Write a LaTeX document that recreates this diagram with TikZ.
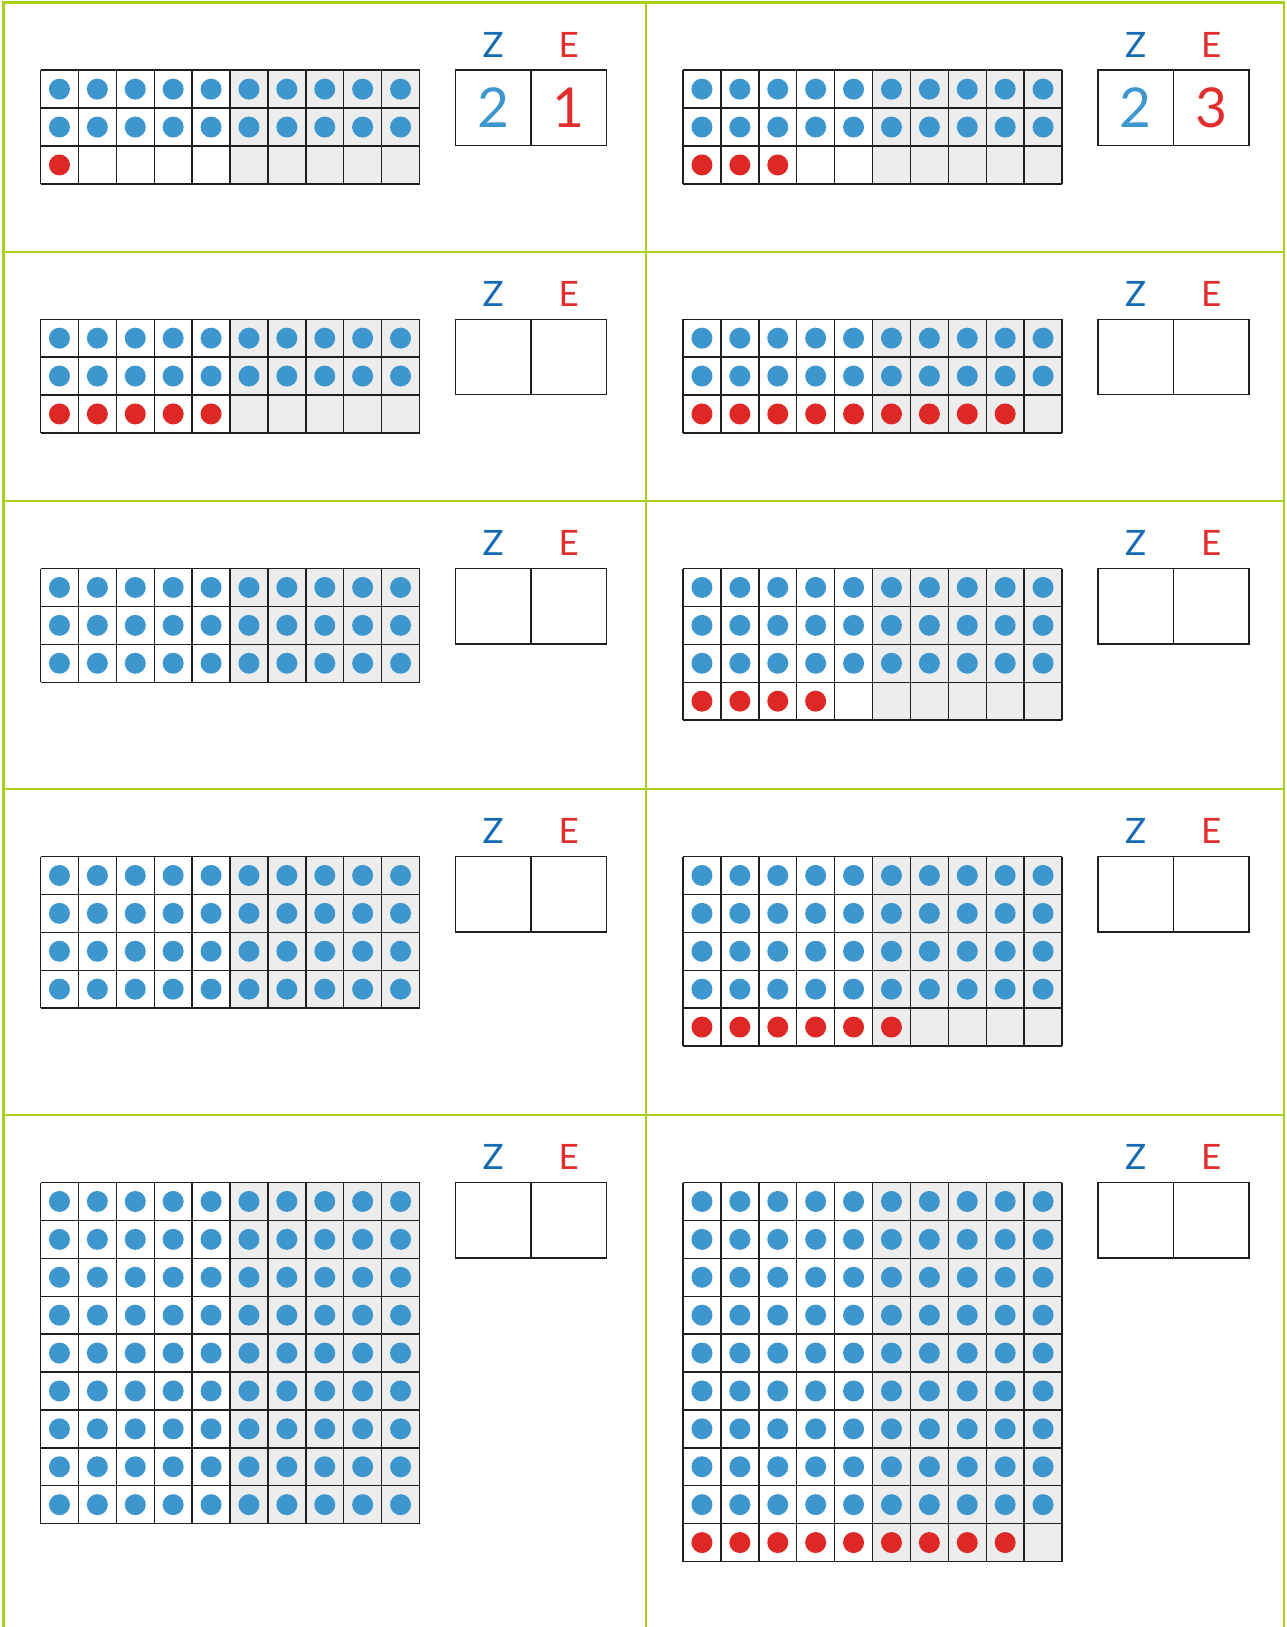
\documentclass[tikz,border=0pt]{standalone}
\usepackage{fontspec}
\setmainfont{Lato}
\usetikzlibrary{positioning}

\definecolor{frameGreen}{RGB}{168,208,22}
\definecolor{dotBlue}{RGB}{61,150,206}
\definecolor{dotRed}{RGB}{222,40,38}
\definecolor{tensBlue}{RGB}{22,106,180}
\definecolor{onesRed}{RGB}{226,45,45}
\definecolor{cellGray}{RGB}{236,237,236}

\newcommand{\cellsize}{37.9}

% #1 id, #2/#3 panel corner, #4 blue rows, #5 red dots, #6 Z digit, #7 E digit
\newcommand{\placepanel}[7]{%
  \begin{scope}[shift={(#2+37,#3+67.5)}]
    \pgfmathtruncatemacro{\nrows}{#4+(#5>0)}
    \fill[cellGray] (5*\cellsize,0) rectangle (10*\cellsize,\nrows*\cellsize);
    \foreach \r in {1,...,#4} {
      \foreach \c in {1,...,10}
        \fill[dotBlue] ({(\c-0.5)*\cellsize},{(\r-0.5)*\cellsize}) circle[radius=10.5pt];
    }
    \ifnum#5>0
      \foreach \c in {1,...,#5}
        \fill[dotRed] ({(\c-0.5)*\cellsize},{(\nrows-0.5)*\cellsize}) circle[radius=10.5pt];
    \fi
    \foreach \c in {0,...,10}
      \draw[gridline] (\c*\cellsize,0) -- (\c*\cellsize,\nrows*\cellsize);
    \foreach \r in {0,...,\nrows}
      \draw[gridline] (0,\r*\cellsize) -- (10*\cellsize,\r*\cellsize);
    \ifnum\nrows>5
      \draw[gridline, line width=2.2pt] (0,5*\cellsize) -- (10*\cellsize,5*\cellsize);
    \fi
    % place value table
    \node[digitbox, text=dotBlue, anchor=north west] (#1-z) at (415,0) {#6};
    \node[digitbox, text=onesRed, right=0pt of #1-z] (#1-e) {#7};
    \node[headlabel, text=tensBlue, above=12.5pt of #1-z] (#1-zl) {Z};
    \node[headlabel, text=onesRed, above=12.5pt of #1-e] (#1-el) {E};
  \end{scope}
}

\begin{document}
\begin{tikzpicture}[
    x=1pt, y=-1pt,
    frame/.style={draw=frameGreen, line width=2.4pt},
    gridline/.style={draw=black!88, line width=1.4pt},
    digitbox/.style={
      rectangle, draw=black!88, line width=1.4pt, inner sep=0pt, outer sep=0pt,
      minimum width=75.5pt, minimum height=75.5pt,
      font=\fontsize{55}{60}\selectfont
    },
    headlabel/.style={inner sep=0pt, font=\fontsize{35}{40}\selectfont},
  ]
  \fill[white] (0,0) rectangle (1286,1627);
  \useasboundingbox (0,0) rectangle (1286,1627);

  \placepanel{p1}{3.5}{2.7}{2}{1}{2}{1}
  \placepanel{p2}{646}{2.7}{2}{3}{2}{3}
  \placepanel{p3}{3.5}{251.7}{2}{5}{}{}
  \placepanel{p4}{646}{251.7}{2}{9}{}{}
  \placepanel{p5}{3.5}{501}{3}{0}{}{}
  \placepanel{p6}{646}{501}{3}{4}{}{}
  \placepanel{p7}{3.5}{789}{4}{0}{}{}
  \placepanel{p8}{646}{789}{4}{6}{}{}
  \placepanel{p9}{3.5}{1115}{9}{0}{}{}
  \placepanel{p10}{646}{1115}{9}{9}{}{}

  % green frame, open at the bottom
  \draw[frame] (3.5,1627) -- (3.5,2.7) -- (1284,2.7) -- (1284,1627);
  \draw[frame] (646,2.7) -- (646,1627);
  \foreach \y in {251.7,501,789,1115}
    \draw[frame] (3.5,\y) -- (1284,\y);
\end{tikzpicture}
\end{document}
